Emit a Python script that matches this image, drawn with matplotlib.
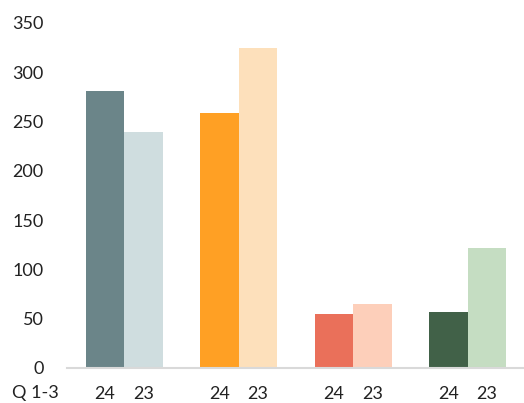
import matplotlib.pyplot as plt
import numpy as np

plt.rcParams['font.family'] = ['Lato', 'DejaVu Sans']

groups = ['g1', 'g2', 'g3', 'g4']
values_24 = [281, 259, 55, 57]
values_23 = [239, 325, 65, 122]
colors_24 = ['#6b8589', '#ffa024', '#ea705a', '#416148']
colors_23 = ['#cfdddf', '#fde0bb', '#fdcfba', '#c5ddc2']
year_labels = ['24', '23']
period_label = 'Q 1-3'
yticks = [0, 50, 100, 150, 200, 250, 300, 350]

fig = plt.figure(figsize=(5.24, 4.03), dpi=100)
ax = fig.add_axes([0.128, 0.087, 0.874, 0.856])

x = np.arange(len(groups))
w = 0.336
ax.bar(x - w / 2, values_24, w, color=colors_24)
ax.bar(x + w / 2, values_23, w, color=colors_23)

ax.set_xlim(-0.5, 3.5)
ax.set_ylim(0, 350)
ax.set_yticks(yticks)
ax.set_xticks(np.concatenate([x - w / 2, x + w / 2]))
ax.set_xticklabels([year_labels[0]] * 4 + [year_labels[1]] * 4)
ax.tick_params(axis='both', length=0, labelsize=13, colors='#222222')
ax.tick_params(axis='y', pad=17)
ax.tick_params(axis='x', pad=13)

for s in ['top', 'right', 'left']:
    ax.spines[s].set_visible(False)
ax.spines['bottom'].set_color('#d9d9d9')
ax.spines['bottom'].set_linewidth(1.5)

fig.text(12 / 524, 1 - 393 / 403, period_label, fontsize=13, color='#222222',
         ha='left', va='center')

fig.savefig('out.png', dpi=100)
